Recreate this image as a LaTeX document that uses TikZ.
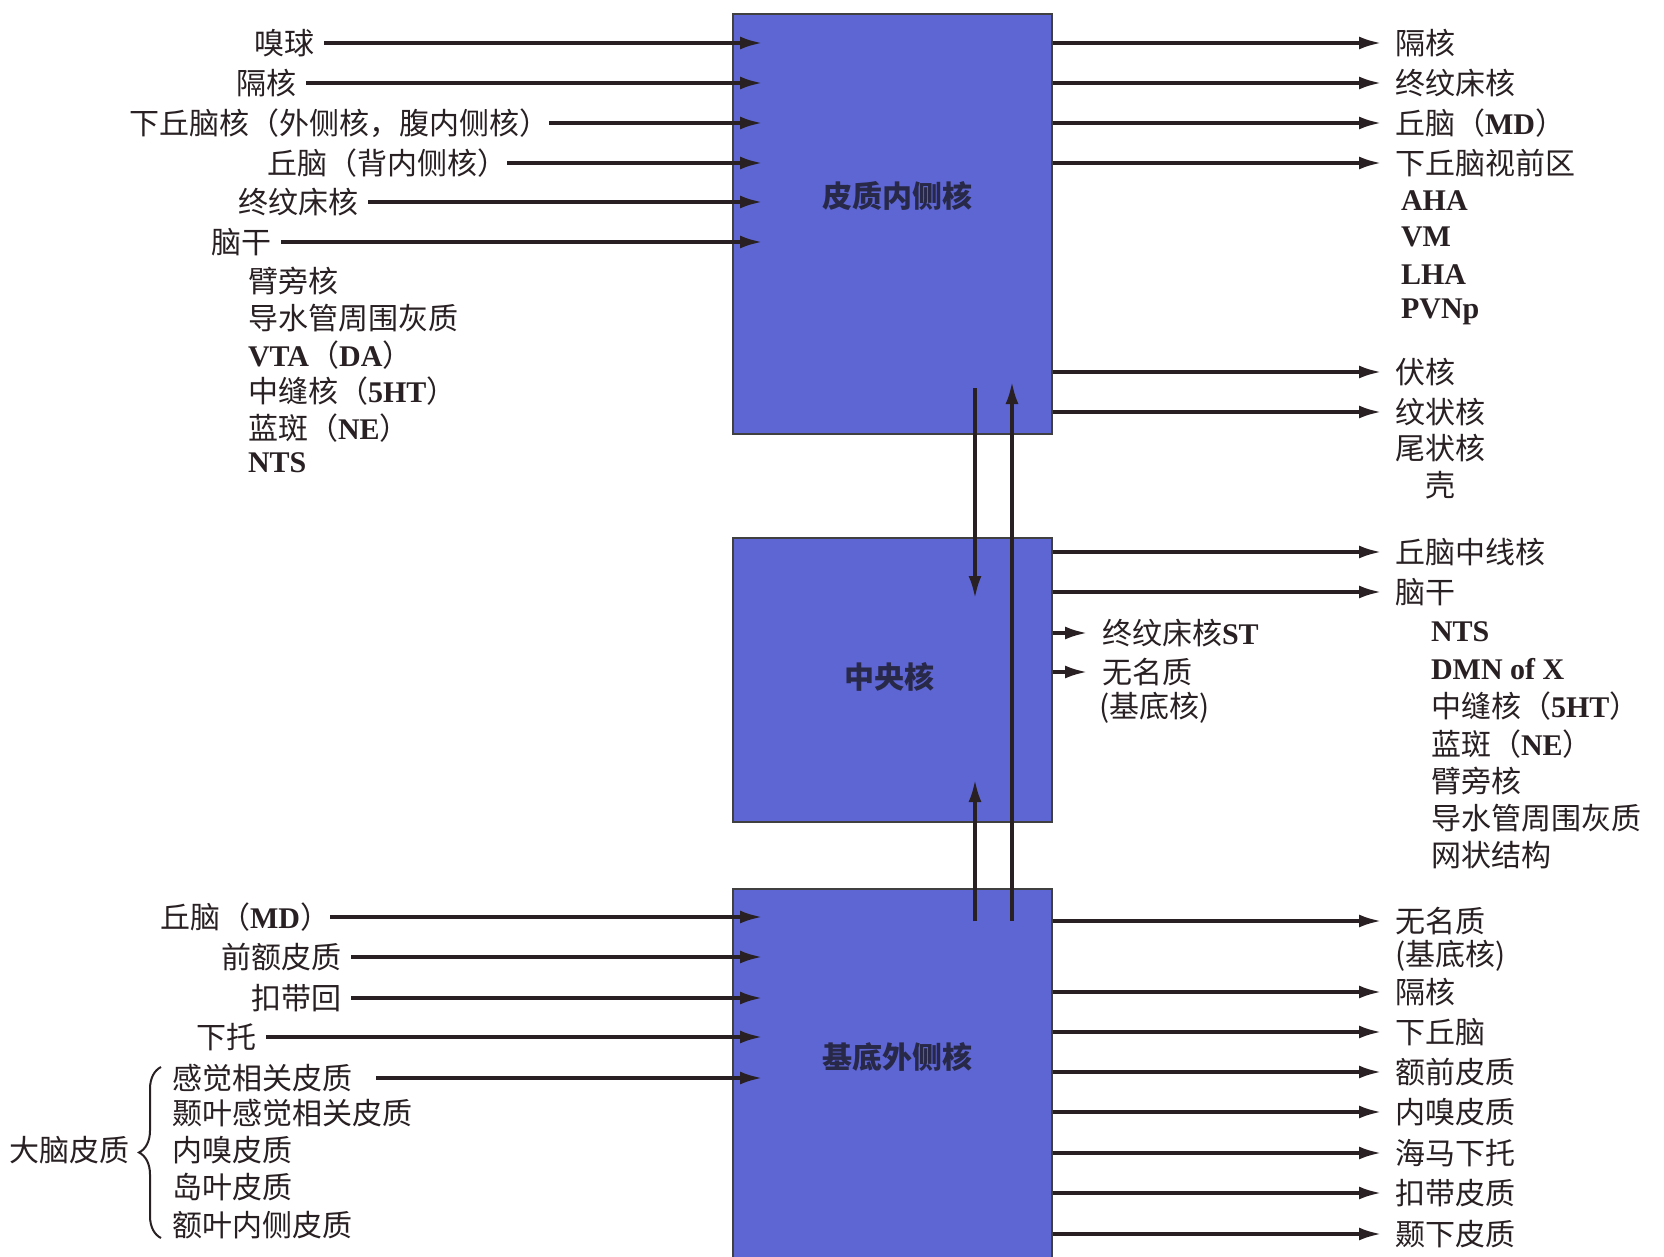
\documentclass[tikz,border=0pt]{standalone}
\usepackage{fontspec}
\setmainfont{Liberation Serif}
\newfontfamily\zh{Noto Sans CJK SC}
\usetikzlibrary{arrows.meta,decorations.pathreplacing}
\definecolor{boxblue}{RGB}{94,102,212}
\definecolor{ink}{RGB}{40,32,34}
\definecolor{boxtext}{RGB}{40,40,72}
\newcommand\LB[1]{{\rmfamily\bfseries #1}}
\begin{document}
\begin{tikzpicture}[x=0.5pt,y=-0.5pt,
  arr/.style={draw=ink, line width=1.6pt, -{Latex[length=11pt,width=6.5pt]}},
  nbox/.style={draw=black!75, line width=0.8pt, fill=boxblue, anchor=north west, inner sep=0pt, minimum width=159.5pt},
  boxlab/.style={font=\zh\bfseries\fontsize{15}{18}\selectfont, text=boxtext},
  base/.style={font=\zh\fontsize{15}{18}\selectfont, text=ink, inner sep=0pt},
  ll/.style={base, anchor=east, outer xsep=5pt},
  rl/.style={base, anchor=west, outer xsep=7pt},
  pl/.style={base, anchor=west, outer sep=0pt}]
\fill[white] (0,0) rectangle (1664,1257);
\useasboundingbox (0,0) rectangle (1664,1257);

% boxes
\node[nbox, minimum height=210pt] (top) at (732,13) {};
\node[nbox, minimum height=142pt] (mid) at (732,537) {};
\node[nbox, minimum height=190pt] (bot) at (732,888) {};
\node[boxlab] (toplab) at (897,196) {皮质内侧核};
\node[boxlab] (midlab) at (889,677) {中央核};
\node[boxlab] (botlab) at (897,1057) {基底外侧核};

% ---- top box inputs
\node[ll] (l1) at (324,43) {嗅球};
\node[ll] (l2) at (306,83) {隔核};
\node[ll, outer xsep=0pt] (l3) at (549,123) {下丘脑核（外侧核，腹内侧核）};
\node[ll, outer xsep=0pt] (l4) at (507,163) {丘脑（背内侧核）};
\node[ll] (l5) at (368,202) {终纹床核};
\node[ll] (l6) at (281,242) {脑干};
\foreach \n in {l1,l2,l3,l4,l5,l6}
  \draw[arr] (\n.east) -- ([xshift=15pt]\n.east -| top.west);
\node[pl] (la) at (248,281) {臂旁核};
\node[pl] (lb) at (248,318) {导水管周围灰质};
\node[pl] (lc) at (248,355) {\LB{VTA}（\LB{DA}）};
\node[pl] (ld) at (248,391) {中缝核（\LB{5HT}）};
\node[pl] (le) at (248,428) {蓝斑（\LB{NE}）};
\node[pl] (lf) at (248,463) {\LB{NTS}};

% ---- top box outputs
\node[rl] (r1) at (1381,43) {隔核};
\node[rl] (r2) at (1381,83) {终纹床核};
\node[rl] (r3) at (1381,123) {丘脑（\LB{MD}）};
\node[rl] (r4) at (1381,163) {下丘脑视前区};
\node[rl] (r5) at (1381,372) {伏核};
\node[rl] (r6) at (1381,412) {纹状核};
\foreach \n in {r1,r2,r3,r4,r5,r6}
  \draw[arr] (top.east |- \n.west) -- (\n.west);
\node[pl] (ra) at (1401,201) {\LB{AHA}};
\node[pl] (rb) at (1401,237) {\LB{VM}};
\node[pl] (rc) at (1401,275) {\LB{LHA}};
\node[pl] (rd) at (1401,312) {\LB{PVNp}};
\node[pl] (re) at (1395,448) {尾状核};
\node[pl] (rf) at (1425,485) {壳};

% ---- central nucleus outputs
\node[rl] (m1) at (1381,552) {丘脑中线核};
\node[rl] (m2) at (1381,592) {脑干};
\foreach \n in {m1,m2}
  \draw[arr] (mid.east |- \n.west) -- (\n.west);
\node[pl] (ma) at (1431,632) {\LB{NTS}};
\node[pl] (mb) at (1431,669) {\LB{DMN of X}};
\node[pl] (mc) at (1431,706) {中缝核（\LB{5HT}）};
\node[pl] (md) at (1431,744) {蓝斑（\LB{NE}）};
\node[pl] (me) at (1431,781) {臂旁核};
\node[pl] (mf) at (1431,818) {导水管周围灰质};
\node[pl] (mg) at (1431,855) {网状结构};
\node[rl, outer xsep=7.5pt] (s1) at (1087,633) {终纹床核\LB{ST}};
\node[rl, outer xsep=7.5pt] (s2) at (1087,672) {无名质};
\foreach \n in {s1,s2}
  \draw[arr] (mid.east |- \n.west) -- (\n.west);
\node[pl] (s3) at (1099,708) {(基底核)};

% ---- vertical connections
\coordinate (a1) at (975,388);
\coordinate (a2) at (975,598);
\coordinate (a3) at (975,921);
\coordinate (a4) at (975,780);
\coordinate (b1) at (1012,921);
\coordinate (b2) at (1012,382);
\draw[arr] (a1) -- (a2);
\draw[arr] (a3) -- (a4);
\draw[arr] (b1) -- (b2);

% ---- basolateral inputs
\node[ll, outer xsep=0pt] (k1) at (330,917) {丘脑（\LB{MD}）};
\node[ll] (k2) at (351,957) {前额皮质};
\node[ll] (k3) at (351,998) {扣带回};
\node[ll] (k4) at (266,1037) {下托};
\foreach \n in {k1,k2,k3,k4}
  \draw[arr] (\n.east) -- ([xshift=15pt]\n.east -| bot.west);
\node[pl] (k5) at (172,1078) {感觉相关皮质};
\draw[arr, shorten <=12pt] (k5.east) -- ([xshift=15pt]k5.east -| bot.west);
\node[pl] (k6) at (172,1113) {颞叶感觉相关皮质};
\node[pl] (k7) at (172,1150) {内嗅皮质};
\node[pl] (k8) at (172,1187) {岛叶皮质};
\node[pl] (k9) at (172,1225) {额叶内侧皮质};
\node[base, anchor=east] (dn) at (130,1150) {大脑皮质};
\draw[draw=ink, line width=1pt, decorate, decoration={brace, amplitude=11pt}]
  (161,1238) -- (161,1067);

% ---- basolateral outputs
\node[rl] (o1) at (1381,921) {无名质};
\node[rl] (o2) at (1381,992) {隔核};
\node[rl] (o3) at (1381,1032) {下丘脑};
\node[rl] (o4) at (1381,1072) {额前皮质};
\node[rl] (o5) at (1381,1112) {内嗅皮质};
\node[rl] (o6) at (1381,1153) {海马下托};
\node[rl] (o7) at (1381,1193) {扣带皮质};
\node[rl] (o8) at (1381,1234) {颞下皮质};
\foreach \n in {o1,o2,o3,o4,o5,o6,o7,o8}
  \draw[arr] (bot.east |- \n.west) -- (\n.west);
\node[pl] (o9) at (1395,956) {(基底核)};
\end{tikzpicture}
\end{document}
